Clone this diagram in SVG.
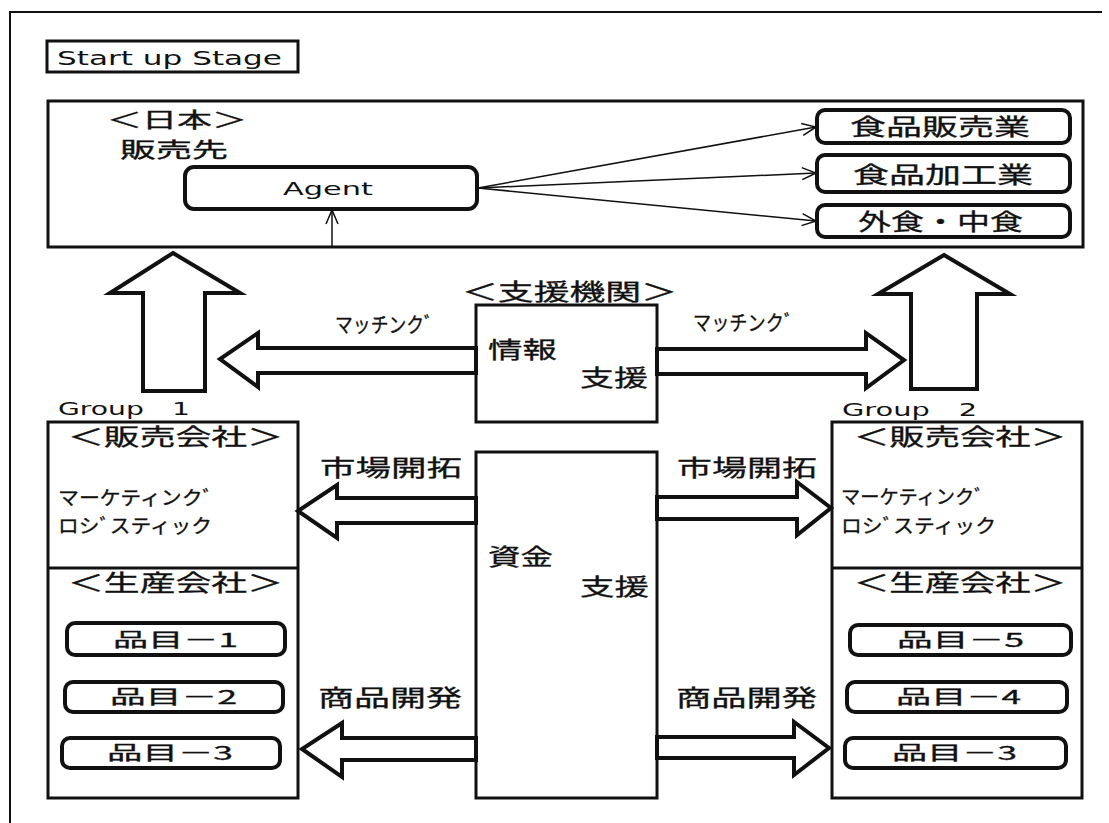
<svg xmlns="http://www.w3.org/2000/svg" width="1109" height="823" viewBox="0 0 1109 823">
<defs>
<style>
.jp{font-family:"Noto Sans CJK JP","Noto Sans CJK SC",sans-serif;font-size:23px;fill:#111;stroke:#111;stroke-width:0.3px;}
.kt{font-family:"Noto Sans CJK JP","Noto Sans CJK SC",sans-serif;font-size:21px;fill:#111;stroke:#111;stroke-width:0.3px;}
.hm{font-family:"Noto Sans CJK JP","Noto Sans CJK SC",sans-serif;font-size:19px;fill:#111;stroke:#111;stroke-width:0.3px;}
.la{font-family:"DejaVu Sans","Liberation Sans",sans-serif;fill:#111;}
.box{fill:#fff;stroke:#111;stroke-width:3;}
.rbox{fill:#fff;stroke:#111;stroke-width:4;}
.blk{fill:#fff;stroke:#111;stroke-width:4;stroke-linejoin:miter;}
.ln{fill:none;stroke:#111;stroke-width:1.5;}
</style>
<marker id="open" markerUnits="userSpaceOnUse" markerWidth="18" markerHeight="14" refX="15" refY="7" orient="auto">
<path d="M1,1 L15,7 L1,13" fill="none" stroke="#111" stroke-width="1.5"/>
</marker>
</defs>
<rect width="1109" height="823" fill="#fff"/>
<path d="M10,823 L10,12 L1102,12" fill="none" stroke="#111" stroke-width="2"/>

<g id="stage">
<rect class="box" x="47" y="41" width="251" height="31"/>
<text class="la" x="57" y="65" font-size="20" textLength="225" lengthAdjust="spacingAndGlyphs">Start up Stage</text>
</g>

<g id="japan">
<rect class="box" x="48" y="101" width="1035" height="146"/>
<text class="jp" x="107" y="127" style="font-size:21px" textLength="140" lengthAdjust="spacingAndGlyphs">＜日本＞</text>
<text class="jp" x="120" y="157" style="font-size:21px" textLength="108" lengthAdjust="spacingAndGlyphs">販売先</text>
</g>

<g id="agent">
<rect class="rbox" x="185" y="167" width="292" height="42" rx="9"/>
<text class="la" x="283" y="195" font-size="18.5" textLength="90" lengthAdjust="spacingAndGlyphs">Agent</text>
</g>

<g id="food-sales">
<rect class="rbox" x="817" y="110" width="253" height="33" rx="8"/>
<text class="jp" x="850" y="135" textLength="180" lengthAdjust="spacingAndGlyphs">食品販売業</text>
</g>
<g id="food-processing">
<rect class="rbox" x="817" y="155" width="253" height="37" rx="8"/>
<text class="jp" x="853" y="183" textLength="180" lengthAdjust="spacingAndGlyphs">食品加工業</text>
</g>
<g id="food-service">
<rect class="rbox" x="817" y="205" width="253" height="32" rx="8"/>
<text class="jp" x="858" y="230" textLength="165" lengthAdjust="spacingAndGlyphs">外食・中食</text>
</g>

<g id="support">
<text class="jp" x="462" y="300" textLength="215" lengthAdjust="spacingAndGlyphs">＜支援機関＞</text>
<rect class="box" x="476" y="305" width="181" height="117"/>
<text class="jp" x="488" y="358" textLength="69" lengthAdjust="spacingAndGlyphs">情報</text>
<text class="jp" x="580" y="386" textLength="68" lengthAdjust="spacingAndGlyphs">支援</text>
</g>

<g id="funding">
<rect class="box" x="476" y="452" width="181" height="346"/>
<text class="jp" x="488" y="565" textLength="65" lengthAdjust="spacingAndGlyphs">資金</text>
<text class="jp" x="580" y="595" textLength="69" lengthAdjust="spacingAndGlyphs">支援</text>
</g>

<g id="group1">
<text class="la" x="58" y="415" font-size="18" textLength="132" lengthAdjust="spacingAndGlyphs">Group　1</text>
<rect class="box" x="48" y="422" width="250" height="376"/>
<line x1="48" y1="568" x2="298" y2="568" stroke="#111" stroke-width="3"/>
<text class="jp" x="68" y="445" textLength="215" lengthAdjust="spacingAndGlyphs">＜販売会社＞</text>
<text class="kt" x="58" y="505" style="font-size:19.5px" textLength="155" lengthAdjust="spacingAndGlyphs">マーケティンクﾞ</text>
<text class="kt" x="58" y="533" style="font-size:19.5px" textLength="154" lengthAdjust="spacingAndGlyphs">ロシﾞスティック</text>
<text class="jp" x="68" y="591" textLength="215" lengthAdjust="spacingAndGlyphs">＜生産会社＞</text>
</g>
<g id="g1-item1">
<rect class="rbox" x="67" y="623" width="218" height="32" rx="8"/>
<text class="hm" x="113" y="647" textLength="125" lengthAdjust="spacingAndGlyphs">品目－1</text>
</g>
<g id="g1-item2">
<rect class="rbox" x="65" y="682" width="218" height="30" rx="8"/>
<text class="hm" x="110" y="704" textLength="127" lengthAdjust="spacingAndGlyphs">品目－2</text>
</g>
<g id="g1-item3">
<rect class="rbox" x="62" y="738" width="218" height="30" rx="8"/>
<text class="hm" x="107" y="760" textLength="126" lengthAdjust="spacingAndGlyphs">品目－3</text>
</g>

<g id="group2">
<text class="la" x="842" y="416" font-size="18" textLength="135" lengthAdjust="spacingAndGlyphs">Group　2</text>
<rect class="box" x="832" y="422" width="250" height="376"/>
<line x1="832" y1="568" x2="1082" y2="568" stroke="#111" stroke-width="3"/>
<text class="jp" x="854" y="445" textLength="212" lengthAdjust="spacingAndGlyphs">＜販売会社＞</text>
<text class="kt" x="841" y="504" style="font-size:19.5px" textLength="143" lengthAdjust="spacingAndGlyphs">マーケティンクﾞ</text>
<text class="kt" x="841" y="533" style="font-size:19.5px" textLength="155" lengthAdjust="spacingAndGlyphs">ロシﾞスティック</text>
<text class="jp" x="854" y="591" textLength="212" lengthAdjust="spacingAndGlyphs">＜生産会社＞</text>
</g>
<g id="g2-item5">
<rect class="rbox" x="850" y="625" width="221" height="30" rx="8"/>
<text class="hm" x="897" y="647" textLength="127" lengthAdjust="spacingAndGlyphs">品目－5</text>
</g>
<g id="g2-item4">
<rect class="rbox" x="847" y="682" width="220" height="30" rx="8"/>
<text class="hm" x="896" y="704" textLength="125" lengthAdjust="spacingAndGlyphs">品目－4</text>
</g>
<g id="g2-item3">
<rect class="rbox" x="845" y="738" width="221" height="30" rx="8"/>
<text class="hm" x="892" y="760" textLength="125" lengthAdjust="spacingAndGlyphs">品目－3</text>
</g>

<g id="connectors">
<line class="ln" x1="332" y1="247" x2="332" y2="210" marker-end="url(#open)"/>
<line class="ln" x1="478" y1="188" x2="816" y2="127" marker-end="url(#open)"/>
<line class="ln" x1="478" y1="188" x2="816" y2="173" marker-end="url(#open)"/>
<line class="ln" x1="478" y1="188" x2="816" y2="221" marker-end="url(#open)"/>

<polygon class="blk" points="173,253 240,293 205,293 205,391 143,391 143,293 110,293"/>
<polygon class="blk" points="944,255 1010,294 977,294 977,389 911,389 911,294 878,294"/>

<polygon class="blk" points="476,348 258,348 258,333 220,359 258,387 258,373 476,373"/>
<text class="kt" x="335" y="332" textLength="98" lengthAdjust="spacingAndGlyphs">マッチンクﾞ</text>
<polygon class="blk" points="657,349 866,349 866,333 904,360 866,388 866,374 657,374"/>
<text class="kt" x="693" y="330" textLength="100" lengthAdjust="spacingAndGlyphs">マッチンクﾞ</text>

<polygon class="blk" points="476,498 337,498 337,485 298,511 337,538 337,523 476,523"/>
<text class="jp" x="320" y="476" textLength="142" lengthAdjust="spacingAndGlyphs">市場開拓</text>
<polygon class="blk" points="657,497 797,497 797,482 831,508 797,535 797,519 657,519"/>
<text class="jp" x="677" y="476" textLength="140" lengthAdjust="spacingAndGlyphs">市場開拓</text>

<polygon class="blk" points="476,738 342,738 342,723 302,749 342,777 342,760 476,760"/>
<text class="jp" x="318" y="706" textLength="144" lengthAdjust="spacingAndGlyphs">商品開発</text>
<polygon class="blk" points="657,737 794,737 794,722 829,748 794,775 794,758 657,758"/>
<text class="jp" x="676" y="706" textLength="141" lengthAdjust="spacingAndGlyphs">商品開発</text>
</g>
</svg>
